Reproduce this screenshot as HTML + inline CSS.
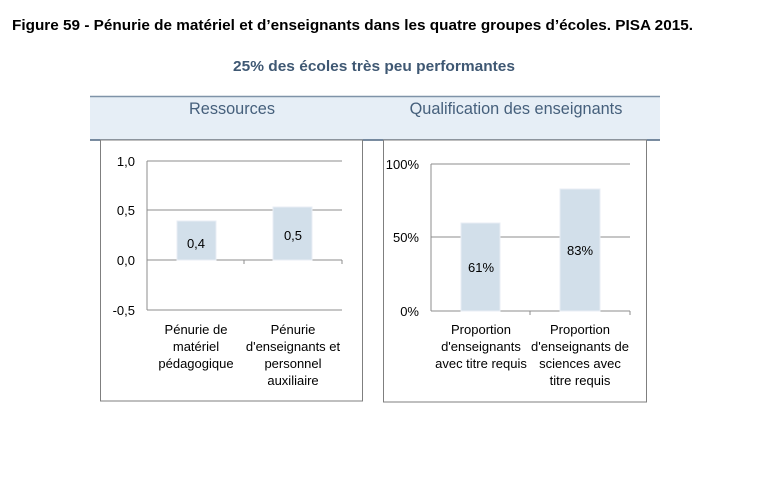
<!DOCTYPE html>
<html><head><meta charset="utf-8"><style>
html,body{margin:0;padding:0;background:#fff;}
svg{display:block;font-family:"Liberation Sans",sans-serif;}
</style></head><body>
<svg width="770" height="481" viewBox="0 0 770 481" xmlns="http://www.w3.org/2000/svg">
<text x="12" y="30" font-size="15" font-weight="bold" fill="#000" textLength="681" lengthAdjust="spacingAndGlyphs">Figure 59 - Pénurie de matériel et d’enseignants dans les quatre groupes d’écoles. PISA 2015.</text>
<text x="233" y="71" font-size="15" font-weight="bold" fill="#3f5873" textLength="282" lengthAdjust="spacingAndGlyphs">25% des écoles très peu performantes</text>
<rect x="90" y="96" width="570" height="44" fill="#e6eef6"/>
<line x1="90" y1="96.5" x2="660" y2="96.5" stroke="#7f93a8" stroke-width="1.5"/>
<line x1="90" y1="140" x2="660" y2="140" stroke="#4f6680" stroke-width="1.5"/>
<text x="232" y="114" font-size="16.3" fill="#46607c" text-anchor="middle">Ressources</text>
<text x="516" y="114" font-size="16.3" fill="#46607c" text-anchor="middle">Qualification des enseignants</text>
<rect x="100.5" y="140" width="262" height="261" fill="#fff" stroke="#7f7f7f"/>
<g stroke="#8c8c8c" stroke-width="1">
<line x1="147" y1="161" x2="342" y2="161"/>
<line x1="147" y1="210" x2="342" y2="210"/>
<line x1="147" y1="260" x2="342" y2="260"/>
<line x1="147" y1="310" x2="342" y2="310"/>
<line x1="147" y1="161" x2="147" y2="310"/>
<line x1="244" y1="260" x2="244" y2="264"/>
<line x1="342" y1="260" x2="342" y2="264"/>
</g>
<rect x="177" y="221" width="39" height="39" fill="#d2dfea" stroke="#e8eef4"/>
<rect x="273" y="207" width="39" height="53" fill="#d2dfea" stroke="#e8eef4"/>
<g font-size="13" fill="#000" text-anchor="end">
<text x="135" y="166">1,0</text><text x="135" y="215">0,5</text><text x="135" y="265">0,0</text><text x="135" y="315">-0,5</text>
</g>
<g font-size="13" fill="#000" text-anchor="middle">
<text x="196" y="248">0,4</text><text x="293" y="240">0,5</text>
<text x="196" y="334">Pénurie de</text><text x="196" y="351">matériel</text><text x="196" y="368">pédagogique</text>
<text x="293" y="334">Pénurie</text><text x="293" y="351">d'enseignants et</text><text x="293" y="368">personnel</text><text x="293" y="385">auxiliaire</text>
</g>
<rect x="383.5" y="140" width="263" height="262" fill="#fff" stroke="#7f7f7f"/>
<g stroke="#8c8c8c" stroke-width="1">
<line x1="431" y1="164" x2="630" y2="164"/>
<line x1="431" y1="237" x2="630" y2="237"/>
<line x1="431" y1="311" x2="630" y2="311"/>
<line x1="431" y1="164" x2="431" y2="311"/>
<line x1="530" y1="311" x2="530" y2="315"/>
<line x1="630" y1="311" x2="630" y2="315"/>
</g>
<rect x="461" y="223" width="39" height="88" fill="#d2dfea" stroke="#e8eef4"/>
<rect x="560" y="189" width="40" height="122" fill="#d2dfea" stroke="#e8eef4"/>
<g font-size="13" fill="#000" text-anchor="end">
<text x="419" y="169">100%</text><text x="419" y="242">50%</text><text x="419" y="316">0%</text>
</g>
<g font-size="13" fill="#000" text-anchor="middle">
<text x="481" y="272">61%</text><text x="580" y="255">83%</text>
<text x="481" y="334">Proportion</text><text x="481" y="351">d'enseignants</text><text x="481" y="368">avec titre requis</text>
<text x="580" y="334">Proportion</text><text x="580" y="351">d'enseignants de</text><text x="580" y="368">sciences avec</text><text x="580" y="385">titre requis</text>
</g>
</svg>
</body></html>
